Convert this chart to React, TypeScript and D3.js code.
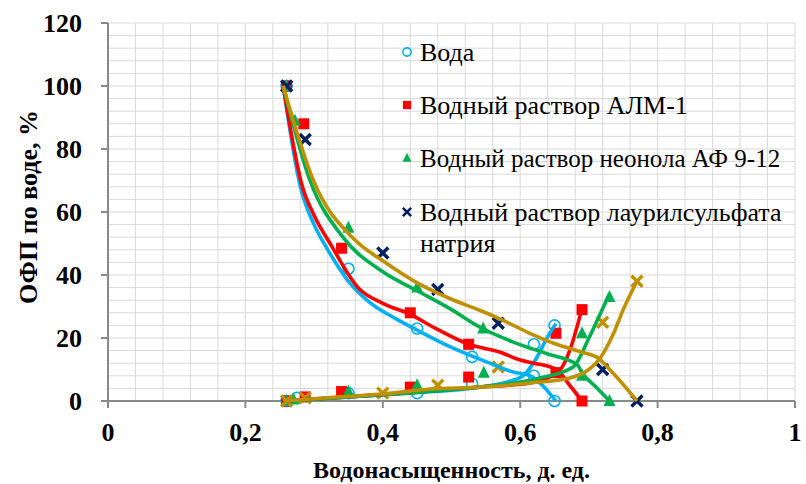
import React from 'react';
import * as d3 from 'd3';

// chart size
const W = 806;
const H = 484;
const margin = { top: 23, right: 11, bottom: 83, left: 108 };

// axis ticks
const xTicks = [0, 0.2, 0.4, 0.6, 0.8, 1];
const xTickLabels = ['0', '0,2', '0,4', '0,6', '0,8', '1'];
const yTicks = [0, 20, 40, 60, 80, 100, 120];

const legendNames = [
  'Вода',
  'Водный раствор АЛМ-1',
  'Водный раствор неонола АФ 9-12',
  'Водный раствор лаурилсульфата',
];

// measured points: Sw (д. ед.) and ОФП (%)
const waterKroSw = [0.26, 0.35, 0.45, 0.53, 0.62, 0.65];
const waterKroV = [100, 42, 23, 14, 8, 0];
const waterKrwSw = [0.26, 0.275, 0.35, 0.45, 0.53, 0.62, 0.65];
const waterKrwV = [0, 1, 2.5, 2.5, 5.5, 18, 24];

const almKroSw = [0.26, 0.285, 0.34, 0.44, 0.525, 0.652, 0.69];
const almKroV = [100, 88, 48.5, 28, 18, 9, 0];
const almKrwSw = [0.26, 0.287, 0.34, 0.44, 0.525, 0.652, 0.69];
const almKrwV = [0, 1.3, 3, 4.4, 7.6, 21.5, 29];

const neoKroSw = [0.26, 0.272, 0.35, 0.45, 0.546, 0.69, 0.73];
const neoKroV = [100, 89, 55, 36, 23, 8, 0];
const neoKrwSw = [0.26, 0.27, 0.35, 0.45, 0.547, 0.69, 0.73];
const neoKrwV = [0, 0.5, 3, 5, 9, 21.5, 33];

const laurKroSw = [0.26, 0.287, 0.4, 0.48, 0.568, 0.72, 0.77];
const laurKroV = [100, 83, 47, 35.4, 24.7, 10, 0];
const laurKrwSw = [0.26, 0.287, 0.4, 0.48, 0.568, 0.72, 0.77];
const laurKrwV = [0, 1, 2.5, 5, 10.8, 25, 38];

// trend curves [Sw, %]
const waterKroCurve = [[0.255, 100], [0.28, 68], [0.3, 56], [0.32, 48], [0.35, 38], [0.38, 31.5], [0.42, 26], [0.45, 22.5], [0.5, 17], [0.55, 12.5], [0.59, 9.2], [0.615, 8], [0.635, 4.4], [0.652, 0]];
const waterKrwCurve = [[0.255, 0], [0.3, 0.6], [0.35, 1.3], [0.45, 2.6], [0.54, 4.4], [0.58, 6], [0.604, 8], [0.622, 13], [0.639, 20], [0.652, 24.5]];
const almKroCurve = [[0.255, 100], [0.283, 68], [0.3, 59], [0.326, 49], [0.364, 36], [0.4, 31], [0.44, 27.5], [0.473, 23.5], [0.525, 18], [0.571, 15.5], [0.6, 13], [0.62, 12], [0.653, 10], [0.672, 5], [0.69, 0]];
const almKrwCurve = [[0.255, 0], [0.3, 0.6], [0.35, 1.3], [0.45, 2.8], [0.54, 4.4], [0.614, 5.7], [0.639, 7.3], [0.658, 9.8], [0.672, 16], [0.69, 29.4]];
const neoKroCurve = [[0.255, 100], [0.294, 70], [0.342, 52], [0.4, 41], [0.45, 35], [0.5, 29], [0.541, 23.5], [0.59, 18.7], [0.639, 15], [0.683, 11.5], [0.69, 9], [0.71, 4.5], [0.73, 0]];
const neoKrwCurve = [[0.255, 0], [0.3, 0.6], [0.35, 1.3], [0.45, 2.8], [0.54, 4.4], [0.6, 6], [0.629, 7.3], [0.677, 10.8], [0.7, 20], [0.715, 27], [0.73, 34]];
const laurKroCurve = [[0.255, 100], [0.299, 70], [0.36, 51], [0.4, 44.5], [0.45, 37.5], [0.5, 32.3], [0.541, 28.8], [0.571, 26], [0.614, 21.5], [0.653, 18], [0.69, 15.5], [0.712, 13.8], [0.735, 8.9], [0.77, 0]];
const laurKrwCurve = [[0.255, 0], [0.3, 0.7], [0.35, 1.5], [0.4, 2.2], [0.469, 3.8], [0.541, 4.4], [0.614, 5.7], [0.672, 7.3], [0.7, 10], [0.716, 13.5], [0.735, 21], [0.75, 29], [0.77, 38]];

const BLUE = '#00B0F0';
const RED = '#FF0000';
const GREEN = '#00B050';
const NAVY = '#002060';
const GOLD = '#BF9000';
const FONT = "'Liberation Serif', 'Times New Roman', serif";

const x = d3.scaleLinear().domain([0, 1]).range([margin.left, W - margin.right]);
const y = d3.scaleLinear().domain([0, 120]).range([H - margin.bottom, margin.top]);

const line = d3
  .line<number[]>()
  .x((d) => x(d[0]))
  .y((d) => y(d[1]))
  .curve(d3.curveMonotoneX);

function Marker({ kind, color, cx, cy, s = 1 }: any) {
  if (kind === 'circle')
    return <circle cx={cx} cy={cy} r={5.5 * s} fill="none" stroke={color} strokeWidth={1.6} />;
  if (kind === 'square')
    return <rect x={cx - 5.5 * s} y={cy - 5.5 * s} width={11 * s} height={11 * s} fill={color} />;
  if (kind === 'tri')
    return (
      <path
        d={`M${cx},${cy - 7 * s}L${cx + 6 * s},${cy + 5 * s}L${cx - 6 * s},${cy + 5 * s}Z`}
        fill={color}
      />
    );
  const r = 5.5 * s;
  return (
    <path
      d={`M${cx - r},${cy - r}L${cx + r},${cy + r}M${cx - r},${cy + r}L${cx + r},${cy - r}`}
      stroke={color}
      strokeWidth={3.4 * s}
      fill="none"
    />
  );
}

export default function App() {
  const x0 = x(0), x1 = x(1), y0 = y(0), y1 = y(120);
  const vGrid = d3.range(0, 26).map((i) => i * 0.04);
  const hGrid = d3.range(0, 31).map((i) => i * 4);

  const markerSets = [
    { sw: waterKroSw, v: waterKroV, kind: 'circle', color: BLUE },
    { sw: waterKrwSw, v: waterKrwV, kind: 'circle', color: BLUE },
    { sw: almKroSw, v: almKroV, kind: 'square', color: RED },
    { sw: almKrwSw, v: almKrwV, kind: 'square', color: RED },
    { sw: neoKroSw, v: neoKroV, kind: 'tri', color: GREEN },
    { sw: neoKrwSw, v: neoKrwV, kind: 'tri', color: GREEN },
    { sw: laurKroSw, v: laurKroV, kind: 'x', color: NAVY },
    { sw: laurKrwSw, v: laurKrwV, kind: 'x', color: GOLD },
  ];

  const curves = [
    { d: waterKroCurve, color: BLUE },
    { d: waterKrwCurve, color: BLUE },
    { d: almKroCurve, color: RED },
    { d: almKrwCurve, color: RED },
    { d: neoKroCurve, color: GREEN },
    { d: neoKrwCurve, color: GREEN },
    { d: laurKroCurve, color: GOLD },
    { d: laurKrwCurve, color: GOLD },
  ];

  const legend = [
    { kind: 'circle', color: BLUE, y: 52 },
    { kind: 'square', color: RED, y: 105 },
    { kind: 'tri', color: GREEN, y: 158 },
    { kind: 'x', color: NAVY, y: 212 },
  ];

  const txt = { fontFamily: FONT };

  return (
    <svg
      width={W}
      height={H}
      style={{ position: 'absolute', left: 0, top: 0, background: '#fff', fontFamily: FONT }}
    >
      {/* grid */}
      <g stroke="#D9D9D9" strokeWidth={1}>
        {vGrid.map((g) => (
          <line key={'v' + g} x1={x(g)} x2={x(g)} y1={y0} y2={y1} />
        ))}
        {hGrid.map((g) => (
          <line key={'h' + g} x1={x0} x2={x1} y1={y(g)} y2={y(g)} />
        ))}
      </g>

      {/* axes */}
      <g stroke="#898989" strokeWidth={2}>
        <line x1={x0} x2={x1} y1={y0} y2={y0} />
        <line x1={x0} x2={x0} y1={y0} y2={y1} />
        {xTicks.map((t) => (
          <line key={'xt' + t} x1={x(t)} x2={x(t)} y1={y0} y2={y0 + 7} />
        ))}
        {yTicks.map((t) => (
          <line key={'yt' + t} x1={x0 - 7} x2={x0} y1={y(t)} y2={y(t)} />
        ))}
      </g>

      {/* tick labels */}
      <g fontSize={26} fontWeight="bold" fill="#000" style={txt}>
        {xTicks.map((t, i) => (
          <text key={'xl' + t} x={x(t)} y={y0 + 40} textAnchor="middle" style={txt}>
            {xTickLabels[i]}
          </text>
        ))}
        {yTicks.map((t) => (
          <text key={'yl' + t} x={x0 - 26} y={y(t) + 9} textAnchor="end" style={txt}>
            {t}
          </text>
        ))}
      </g>

      {/* axis titles */}
      <text x={(x0 + x1) / 2} y={478} textAnchor="middle" fontSize={24} fontWeight="bold" style={txt}>
        Водонасыщенность, д. ед.
      </text>
      <text
        transform={`translate(37,${207}) rotate(-90)`}
        textAnchor="middle"
        fontSize={26}
        fontWeight="bold"
        style={txt}
      >
        ОФП по воде, %
      </text>

      {/* markers */}
      {markerSets.map((m, si) =>
        m.sw.map((sw, i) => (
          <Marker key={si + '-' + i} kind={m.kind} color={m.color} cx={x(sw)} cy={y(m.v[i])} />
        ))
      )}

      {/* curves */}
      {curves.map((c, i) => (
        <path key={'c' + i} d={line(c.d) || ''} fill="none" stroke={c.color} strokeWidth={3.6} />
      ))}

      {/* legend */}
      {legend.map((l, i) => (
        <g key={'lg' + i}>
          <Marker kind={l.kind} color={l.color} cx={407} cy={l.y} s={0.75} />
          <text x={420} y={l.y + 9} fontSize={i === 2 ? 25 : 26} style={txt}>
            {legendNames[i]}
          </text>
        </g>
      ))}
      <text x={420} y={252} fontSize={26} style={txt}>
        натрия
      </text>
    </svg>
  );
}
